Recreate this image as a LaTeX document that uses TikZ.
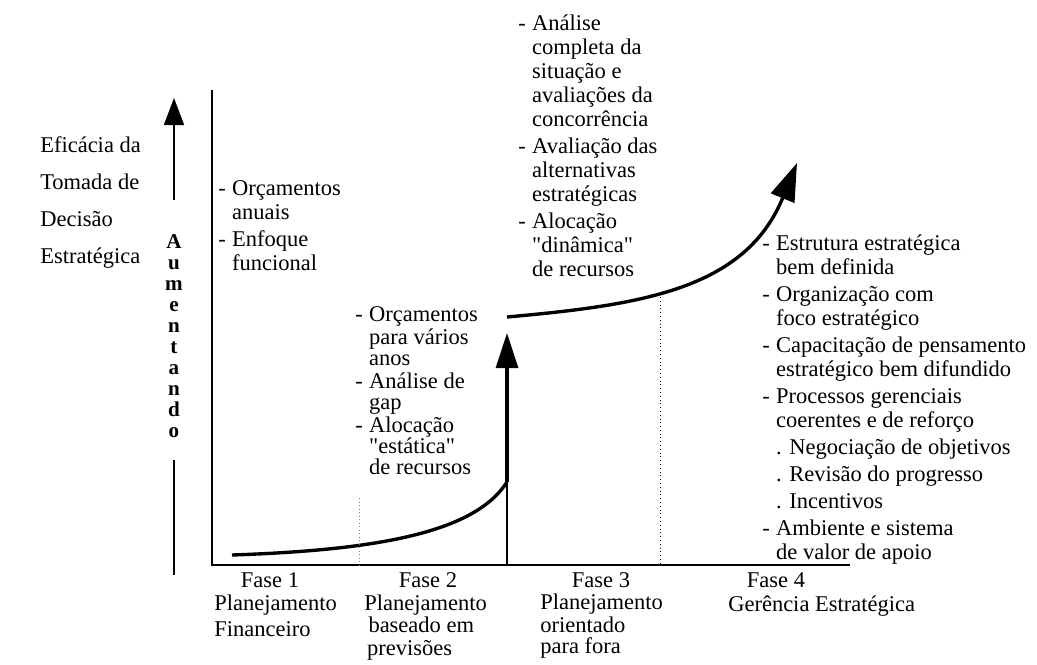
\documentclass[tikz,border=0pt]{standalone}
\usepackage{fontspec}
\setmainfont{Liberation Serif}
\usetikzlibrary{arrows.meta}
\newcommand{\itm}{\makebox[0.62em][l]{-}}
\newcommand{\cnt}{\hspace*{0.62em}}
\newcommand{\gap}{\\[2.1pt]}
\newcommand{\aspas}[1]{\textquotedbl#1\textquotedbl}

\begin{document}
\begin{tikzpicture}[x=0.025cm,y=-0.025cm,
  lista/.style={anchor=north west,inner sep=0pt,align=left,font=\fontsize{16}{17.1}\selectfont},
  fase/.style={inner sep=0pt,font=\fontsize{16}{17.1}\selectfont},
  eixo/.style={line width=1.4pt},
  curva/.style={line width=2.4pt},
  seta/.style={-{Triangle[length=0.88cm,width=0.55cm]}}
]
\useasboundingbox (0,0) rectangle (1037,664);

\coordinate (topo) at (212,90);
\coordinate (fim) at (850,565);
\draw [eixo] (topo) |- (fim);

% seta da esquerda
\coordinate (aumBase) at (174,200);
\coordinate (aumPonta) at (174,98);
\coordinate (aumA) at (174,460);
\coordinate (aumB) at (174,575);
\draw [line width=1.6pt,-{Triangle[length=0.68cm,width=0.5cm]}] (aumBase) -- (aumPonta);
\draw [line width=1.6pt] (aumA) -- (aumB);
\node [anchor=north,inner sep=0pt,align=center,font=\fontsize{15}{15}\selectfont\bfseries] (aum) at (174,233)
  {\strut A\\u\\m\\e\\n\\t\\a\\n\\d\\o};

\node [anchor=north west,inner sep=0pt,align=left,font=\fontsize{16}{26.1}\selectfont] (eficacia) at (40,127)
  {\strut Efic\'acia da\\Tomada de\\Decis\~ao\\Estrat\'egica};

% curvas
\coordinate (c1a) at (232,555);
\coordinate (c1b) at (507,482);
\draw [curva] (c1a) .. controls (380,550) and (475,532) .. (c1b);
\coordinate (base2) at (507,565);
\coordinate (ponta2) at (507,333);
\draw [line width=1.3pt] (base2) -- (c1b);
\draw [line width=2.4pt,seta] (c1b) -- (ponta2);
\coordinate (c2a) at (507,317);
\coordinate (ponta3) at (797,163);
\draw [curva,-{Triangle[length=0.95cm,width=0.62cm]}] (c2a) .. controls (640,305) and (745,290) .. (ponta3);

\coordinate (div1a) at (359,498);
\coordinate (div1b) at (359,565);
\draw [dotted,line width=0.5pt,gray] (div1a) -- (div1b);
\coordinate (div3a) at (660,297);
\coordinate (div3b) at (660,565);
\draw [dotted,line width=0.7pt] (div3a) -- (div3b);

% listas
\node [lista] (lista1) at (218,178) {\strut\itm Or\c{c}amentos\\
\cnt anuais\gap
\itm Enfoque\\
\cnt funcional};

\node [lista,font=\fontsize{16}{14.9}\selectfont] (lista2) at (355,306) {\strut\itm Or\c{c}amentos\\
\cnt para v\'arios\\
\cnt anos\\[1.4pt]
\itm An\'alise de\\
\cnt gap\\[1.4pt]
\itm Aloca\c{c}\~ao\\
\cnt \aspas{est\'atica}\\
\cnt de recursos};

\node [lista] (lista3) at (518,13) {\strut\itm An\'alise\\
\cnt completa da\\
\cnt situa\c{c}\~ao e\\
\cnt avalia\c{c}\~oes da\\
\cnt concorr\^encia\gap
\itm Avalia\c{c}\~ao das\\
\cnt alternativas\\
\cnt estrat\'egicas\gap
\itm Aloca\c{c}\~ao\\
\cnt \aspas{din\^amica}\\
\cnt de recursos};

\node [lista] (lista4) at (762,233) {\strut\itm Estrutura estrat\'egica\\
\cnt bem definida\gap
\itm Organiza\c{c}\~ao com\\
\cnt foco estrat\'egico\gap
\itm Capacita\c{c}\~ao de pensamento\\
\cnt estrat\'egico bem difundido\gap
\itm Processos gerenciais\\
\cnt coerentes e de refor\c{c}o\gap
\cnt . Negocia\c{c}\~ao de objetivos\gap
\cnt . Revis\~ao do progresso\gap
\cnt . Incentivos\gap
\itm Ambiente e sistema\\
\cnt de valor de apoio};

% fases
\node [fase] (fase1) at (270,580) {Fase 1};
\node [fase] (fase2) at (428,580) {Fase 2};
\node [fase] (fase3) at (601,580) {Fase 3};
\node [fase] (fase4) at (776,580) {Fase 4};
\node [lista,font=\fontsize{16}{18.5}\selectfont] (desc1) at (214,592) {\strut Planejamento\\Financeiro};
\node [lista,font=\fontsize{16}{16}\selectfont] (desc2) at (364,594) {\strut Planejamento\\\hspace*{3pt}baseado em\\\hspace*{2pt}previs\~oes};
\node [lista,font=\fontsize{16}{14.4}\selectfont] (desc3) at (540,594) {\strut Planejamento\\orientado\\para fora};
\node [lista] (desc4) at (728,594) {\strut Ger\^encia Estrat\'egica};
\end{tikzpicture}
\end{document}
